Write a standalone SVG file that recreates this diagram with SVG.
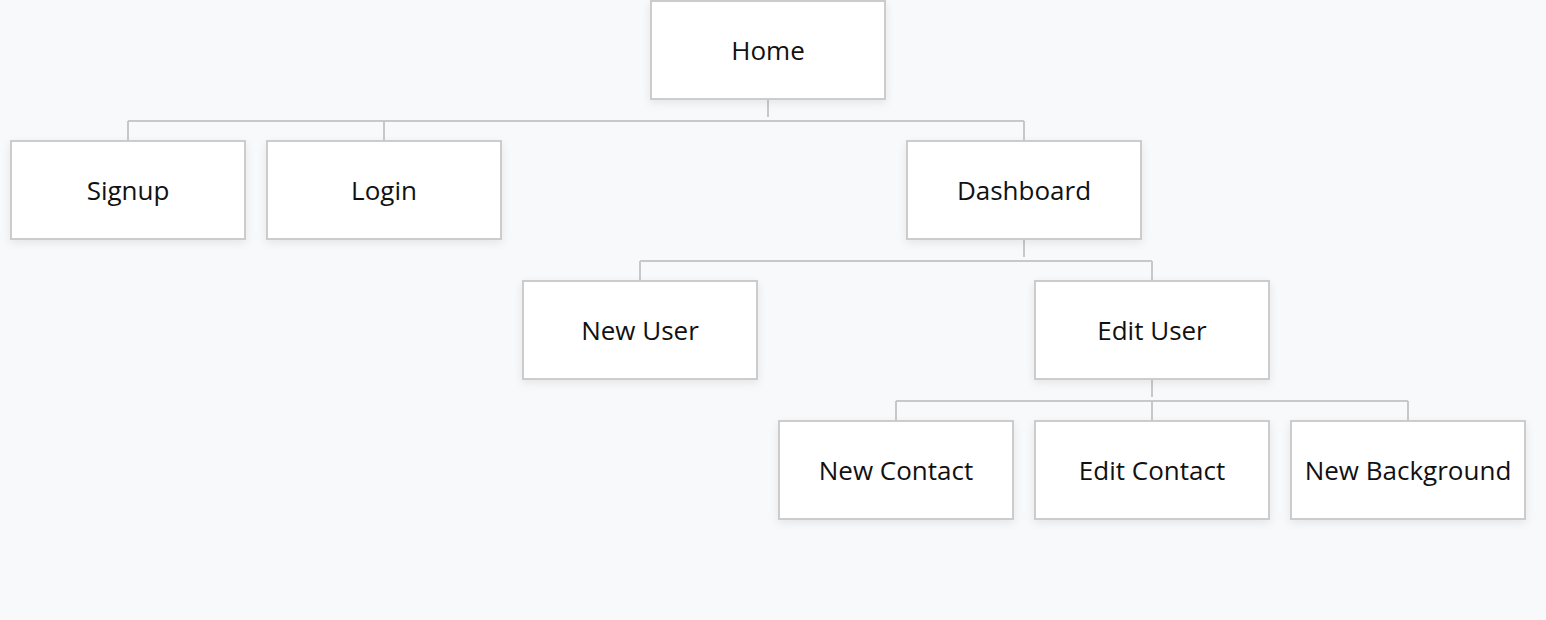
<svg xmlns="http://www.w3.org/2000/svg" width="1546" height="620" viewBox="0 0 1546 620">
<defs>
<filter id="sh" x="-10%" y="-10%" width="120%" height="130%">
<feDropShadow dx="0" dy="3" stdDeviation="4" flood-color="#000" flood-opacity="0.08"/>
</filter>
<style>
.box{fill:#ffffff;stroke:#cccccc;stroke-width:2;filter:url(#sh)}
.lbl{font-family:"Open Sans","Noto Sans",sans-serif;font-size:26px;fill:#111111;text-anchor:middle}
.ln{fill:none;stroke:#c8c8c8;stroke-width:2}
</style>
</defs>
<rect width="1546" height="620" fill="#f8f9fb"/>
<g id="connectors">
<path class="ln" d="M768 99V117M128 121H1024M128 121V141M384 121V141M1024 121V141"/>
<path class="ln" d="M1024 239V257M640 261H1152M640 261V281M1152 261V281"/>
<path class="ln" d="M1152 379V397M896 401H1408M896 401V421M1152 401V421M1408 401V421"/>
</g>
<g id="home"><rect class="box" x="651" y="1" width="234" height="98"/><text class="lbl" x="768" y="60">Home</text></g>
<g id="signup"><rect class="box" x="11" y="141" width="234" height="98"/><text class="lbl" x="128" y="200">Signup</text></g>
<g id="login"><rect class="box" x="267" y="141" width="234" height="98"/><text class="lbl" x="384" y="200">Login</text></g>
<g id="dashboard"><rect class="box" x="907" y="141" width="234" height="98"/><text class="lbl" x="1024" y="200">Dashboard</text></g>
<g id="new-user"><rect class="box" x="523" y="281" width="234" height="98"/><text class="lbl" x="640" y="340">New User</text></g>
<g id="edit-user"><rect class="box" x="1035" y="281" width="234" height="98"/><text class="lbl" x="1152" y="340">Edit User</text></g>
<g id="new-contact"><rect class="box" x="779" y="421" width="234" height="98"/><text class="lbl" x="896" y="480">New Contact</text></g>
<g id="edit-contact"><rect class="box" x="1035" y="421" width="234" height="98"/><text class="lbl" x="1152" y="480">Edit Contact</text></g>
<g id="new-background"><rect class="box" x="1291" y="421" width="234" height="98"/><text class="lbl" x="1408" y="480">New Background</text></g>
</svg>
